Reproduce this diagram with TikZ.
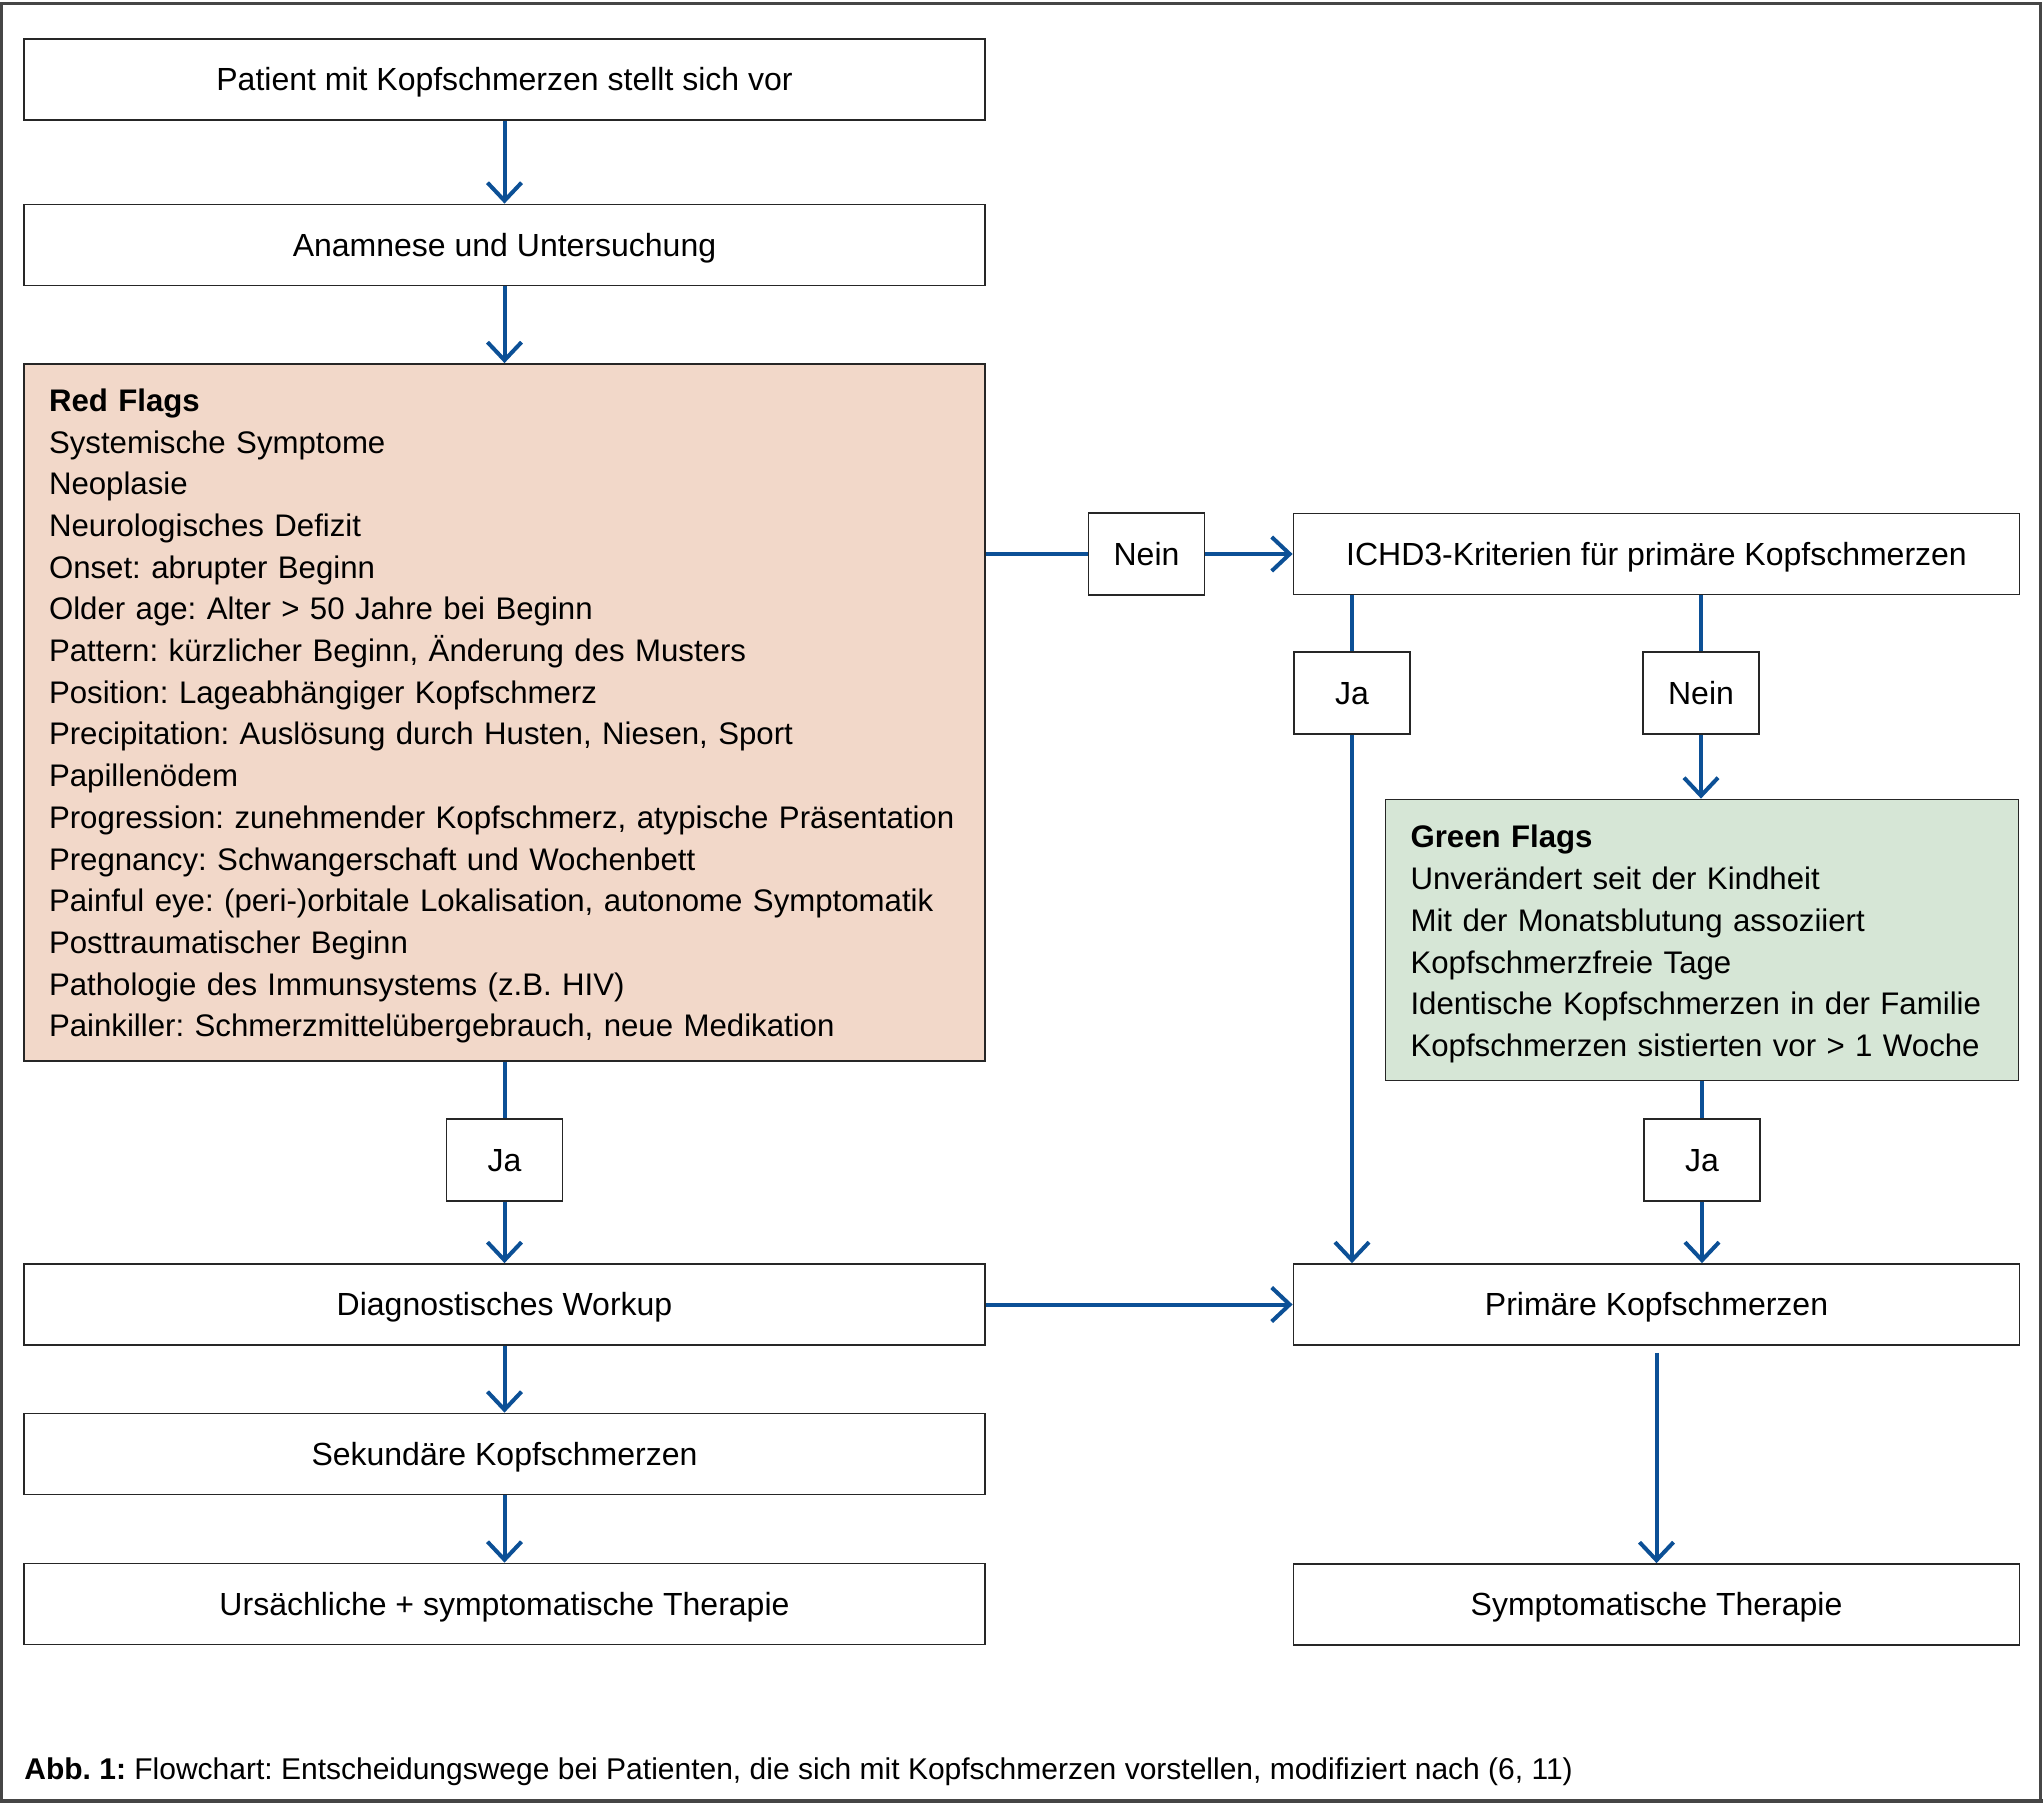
\documentclass[tikz,border=0pt]{standalone}
\usepackage{fontspec}
\setmainfont{Liberation Sans}
\usetikzlibrary{arrows.meta,calc}
\definecolor{flowblue}{RGB}{12,80,150}
\definecolor{redfill}{RGB}{242,216,201}
\definecolor{greenfill}{RGB}{214,230,214}
\definecolor{framegray}{RGB}{70,70,70}
\frenchspacing
\begin{document}
\frenchspacing
\begin{tikzpicture}[x=0.5pt,y=-0.5pt,
  txt/.style={font=\frenchspacing\fontsize{16}{20.85}\selectfont},
  stepbox/.style={txt,draw=black!85,line width=0.9pt,fill=white,inner sep=0pt,anchor=center,text height=11pt,text depth=-1pt},
  widebox/.style={stepbox,minimum width=480.5pt,minimum height=40.5pt},
  rightbox/.style={stepbox,minimum width=363pt,minimum height=40.5pt},
  labelbox/.style={stepbox,minimum width=58pt,minimum height=41pt},
  flagbox/.style={font=\frenchspacing\fontsize{15.6}{20.85}\selectfont,draw=black!85,line width=0.9pt,align=left,inner xsep=12.5pt,inner ysep=0pt,anchor=center},
  conn/.style={draw=flowblue,line width=2pt},
  arr/.style={conn,-{Straight Barb[length=9pt,width=17pt]}}
]
\useasboundingbox (0,0) rectangle (2043,1805);
\draw[framegray,line width=1.3pt] (1.5,3.5) rectangle (2040.5,1801);
\draw[framegray,line width=2.2pt] (0,1801) -- (2043,1801);

\node[widebox] (p1) at (504.5,79.5) {Patient mit Kopfschmerzen stellt sich vor};
\node[widebox] (p2) at (504.5,245) {Anamnese und Untersuchung};
\node[flagbox,fill=redfill,minimum width=480.5pt,text width=455.5pt,minimum height=348.5pt] (red) at (504.5,712.5) {%
\mbox{\rule{0pt}{14.8pt}\textbf{Red Flags}}\\
\mbox{Systemische Symptome}\\
\mbox{Neoplasie}\\
\mbox{Neurologisches Defizit}\\
\mbox{Onset: abrupter Beginn}\\
\mbox{Older age: Alter > 50 Jahre bei Beginn}\\
\mbox{Pattern: kürzlicher Beginn, Änderung des Musters}\\
\mbox{Position: Lageabhängiger Kopfschmerz}\\
\mbox{Precipitation: Auslösung durch Husten, Niesen, Sport}\\
\mbox{Papillenödem}\\
\mbox{Progression: zunehmender Kopfschmerz, atypische Präsentation}\\
\mbox{Pregnancy: Schwangerschaft und Wochenbett}\\
\mbox{Painful eye: (peri-)orbitale Lokalisation, autonome Symptomatik}\\
\mbox{Posttraumatischer Beginn}\\
\mbox{Pathologie des Immunsystems (z.B. HIV)}\\
\mbox{Painkiller: Schmerzmittelübergebrauch, neue Medikation}};
\node[labelbox] (nein1) at (1146.5,554) {Nein};
\node[rightbox] (ichd) at (1656.5,554) {ICHD3-Kriterien für primäre Kopfschmerzen};
\node[labelbox] (ja1) at (1352,693) {Ja};
\node[labelbox] (nein2) at (1701,693) {Nein};
\node[flagbox,fill=greenfill,minimum width=316.5pt,text width=291.5pt,minimum height=140.5pt] (green) at (1702,940) {%
\mbox{\rule{0pt}{15.4pt}\textbf{Green Flags}}\\
\mbox{Unverändert seit der Kindheit}\\
\mbox{Mit der Monatsblutung assoziiert}\\
\mbox{Kopfschmerzfreie Tage}\\
\mbox{Identische Kopfschmerzen in der Familie}\\
\mbox{Kopfschmerzen sistierten vor > 1 Woche}};
\node[labelbox] (ja2) at (1702,1160) {Ja};
\node[labelbox] (ja3) at (504.5,1160) {Ja};
\node[widebox] (diag) at (504.5,1304.5) {Diagnostisches Workup};
\node[rightbox] (prim) at (1656.5,1304.5) {Primäre Kopfschmerzen};
\node[widebox] (sek) at (504.5,1454) {Sekundäre Kopfschmerzen};
\node[widebox] (urs) at (504.5,1604) {Ursächliche + symptomatische Therapie};
\node[rightbox] (sym) at (1656.5,1604.5) {Symptomatische Therapie};

\node[font=\frenchspacing\fontsize{15}{18}\selectfont,anchor=base west,inner sep=0pt] (cap) at (24,1779) {\textbf{Abb. 1:} Flowchart: Entscheidungswege bei Patienten, die sich mit Kopfschmerzen vorstellen, modifiziert nach (6, 11)};

\draw[arr] (p1.south) -- (p2.north);
\draw[arr] (p2.south) -- (red.north);
\draw[conn] (red.east |- nein1) -- (nein1.west);
\draw[arr] (nein1.east) -- (ichd.west);
\draw[conn] (ichd.south -| ja1) -- (ja1.north);
\draw[arr] (ja1.south) -- (prim.north -| ja1);
\draw[conn] (ichd.south -| nein2) -- (nein2.north);
\draw[arr] (nein2.south) -- (green.north -| nein2);
\draw[conn] (green.south -| ja2) -- (ja2.north);
\draw[arr] (ja2.south) -- (prim.north -| ja2);
\draw[conn] (red.south) -- (ja3.north);
\draw[arr] (ja3.south) -- (diag.north);
\draw[arr] (diag.east) -- (prim.west);
\draw[arr] (diag.south) -- (sek.north);
\draw[arr] (sek.south) -- (urs.north);
\draw[arr,shorten <=3.5pt] (prim.south) -- (sym.north);
\end{tikzpicture}
\end{document}
